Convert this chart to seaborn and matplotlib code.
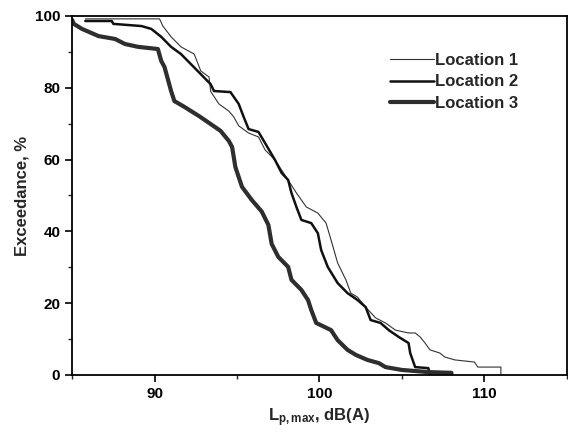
import matplotlib
matplotlib.use("Agg")
import matplotlib.pyplot as plt
import numpy as np
import pandas as pd
import seaborn as sns
from matplotlib.ticker import MultipleLocator

# curves (x = L_p,max in dB(A), y = exceedance in %)
loc1_x = [85.8, 90.3, 90.5, 91.0, 91.6, 92.4, 92.8, 93.3, 93.4, 93.9, 94.5, 94.8, 95.1, 95.7,
          96.3, 96.7, 97.3, 98.1, 98.6, 99.2, 99.9, 100.4, 100.7, 101.1, 101.6, 101.9, 102.3,
          102.8, 103.4, 104.0, 104.6, 105.4, 105.8, 106.1, 106.4, 106.7, 107.3, 107.6, 108.2,
          109.4, 109.6, 111.0, 111.0]
loc1_y = [99.2, 99.2, 97.2, 94.2, 91.4, 89.4, 84.7, 83.0, 79.0, 75.5, 73.5, 71.9, 69.4, 67.4,
          66.3, 62.7, 59.9, 54.3, 50.7, 46.8, 45.1, 42.3, 37.6, 31.2, 26.5, 22.8, 21.7,
          18.9, 15.9, 14.5, 12.5, 11.7, 11.7, 10.6, 8.9, 7.0, 6.1, 5.0, 4.2,
          3.6, 2.2, 2.2, 0.0]

loc2_x = [85.8, 87.4, 87.5, 89.2, 89.8, 90.4, 91.0, 91.6, 92.2, 92.8, 93.4, 93.6, 94.6, 95.1,
          95.4, 95.7, 96.3, 96.7, 97.3, 97.7, 98.1, 98.3, 98.6, 98.9, 99.5, 99.9, 100.1,
          100.5, 101.1, 101.7, 102.3, 102.8, 103.1, 103.7, 104.2, 104.8, 105.4, 105.5, 105.8,
          106.6, 106.7]
loc2_y = [98.6, 98.6, 97.8, 97.2, 96.4, 94.2, 91.4, 89.4, 86.6, 83.8, 81.0, 79.1, 78.8, 75.5,
          71.9, 68.5, 67.7, 64.6, 59.9, 56.3, 54.3, 50.7, 46.8, 43.2, 42.3, 39.5, 34.8,
          30.1, 25.6, 22.8, 20.9, 18.9, 15.3, 14.5, 12.5, 10.6, 8.9, 6.1, 2.2,
          1.9, 0.0]

loc3_x = [85.0, 85.1, 85.6, 86.6, 87.6, 88.2, 89.0, 90.2, 90.4, 90.6, 91.0, 91.2, 91.8, 92.7,
          93.4, 94.0, 94.5, 94.7, 94.9, 95.3, 95.9, 96.5, 96.9, 97.1, 97.5, 98.1, 98.3,
          98.9, 99.3, 99.5, 99.8, 100.7, 101.1, 101.7, 102.2, 102.9, 103.6, 104.0, 105.0,
          106.6, 108.0, 108.0]
loc3_y = [98.9, 97.8, 96.4, 94.4, 93.6, 92.2, 91.4, 90.8, 87.5, 85.8, 79.1, 76.3, 74.7, 72.1,
          69.9, 68.0, 65.2, 63.5, 57.9, 52.4, 48.7, 45.5, 41.8, 36.5, 32.9, 30.1, 26.5,
          23.7, 20.9, 18.1, 14.5, 12.5, 9.7, 7.0, 5.6, 4.2, 3.3, 2.2, 1.4,
          0.8, 0.6, 0.0]

labels = ["Location 1", "Location 2", "Location 3"]

sns.set_style("ticks")
plt.rcParams["font.family"] = ["Liberation Sans", "DejaVu Sans"]
plt.rcParams["font.weight"] = "bold"
plt.rcParams["axes.labelweight"] = "bold"
plt.rcParams["mathtext.fontset"] = "custom"
plt.rcParams["mathtext.rm"] = "Liberation Sans:bold"
plt.rcParams["mathtext.it"] = "Liberation Sans:bold"

fig = plt.figure(figsize=(5.68, 4.32), dpi=100)
ax = fig.add_axes([0.127, 0.132, 0.871, 0.831])

series = [(loc1_x, loc1_y, 0.8, "#333333"),
          (loc2_x, loc2_y, 1.8, "#111111"),
          (loc3_x, loc3_y, 3.0, "#2e2e2e")]
for (xs, ys, lw, col), lab in zip(series, labels):
    sns.lineplot(x=xs, y=ys, ax=ax, color=col, linewidth=lw,
                 estimator=None, sort=False, label=lab)

ax.set_xlim(85, 115)
ax.set_ylim(0, 100)
ax.xaxis.set_major_locator(MultipleLocator(10))
ax.xaxis.set_minor_locator(MultipleLocator(5))
ax.yaxis.set_major_locator(MultipleLocator(20))
ax.yaxis.set_minor_locator(MultipleLocator(10))
ax.tick_params(which="major", direction="out", length=5, width=1.2, labelsize=11, colors="black")
ax.tick_params(which="minor", direction="out", length=3, width=1.0)
for sp in ax.spines.values():
    sp.set_linewidth(1.3)
    sp.set_color("black")

ax.set_xlabel(r"L$_{\mathrm{p,max}}$, dB(A)", fontsize=12, labelpad=4)
ax.set_ylabel("Exceedance, %", fontsize=12, labelpad=4)

leg = ax.legend(loc="upper left", bbox_to_anchor=(0.63, 0.915), frameon=False,
                fontsize=12, handlelength=2.6, handletextpad=0.1, labelspacing=0.38,
                borderaxespad=0)

fig.savefig("out.png", dpi=100)
